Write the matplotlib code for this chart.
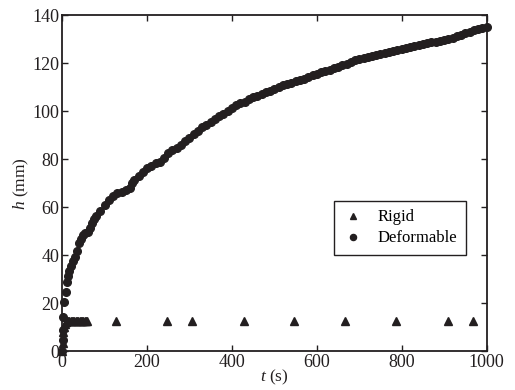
import matplotlib
matplotlib.use("Agg")
import matplotlib.pyplot as plt

# rigid cylinder: early dense readings, then sparse ones
t_rigid = [0, 1, 2, 4, 6, 8, 11, 14, 17, 20, 23, 26, 29, 32, 35, 38, 41, 44, 47, 50, 53, 56, 59,
           128, 248, 307, 428, 546, 667, 787, 908, 967]
h_rigid = [0, 3.5, 8.2, 10.2, 11.6, 12.3, 12.6, 12.7, 12.7, 12.7, 12.7, 12.7, 12.7, 12.7, 12.7, 12.7,
           12.7, 12.7, 12.7, 12.7, 12.7, 12.7, 12.7,
           12.8, 12.8, 12.8, 12.8, 12.8, 12.8, 12.8, 12.8, 12.8]

# deformable cylinder
t_deform = [0, 1, 2, 3, 5, 8, 11, 13, 16, 20, 25, 30, 35, 40, 45, 50, 55, 60, 65, 70, 75, 80, 90,
            100, 110, 120, 130, 140, 150, 160, 165, 170, 180, 190, 200, 210, 220, 230, 240, 250,
            260, 270, 280, 290, 300, 310, 320, 330, 340, 350, 360, 370, 380, 390, 400, 410, 420,
            430, 440, 450, 460, 470, 480, 490, 500, 510, 520, 530, 540, 550, 560, 570, 580, 590,
            600, 610, 620, 630, 640, 650, 660, 670, 680, 690, 700, 710, 720, 730, 740, 750, 760,
            770, 780, 790, 800, 810, 820, 830, 840, 850, 860, 870, 880, 890, 900, 910, 920, 930,
            940, 950, 960, 970, 980, 990, 1000]
h_deform = [0, 4.6, 8.9, 14.4, 20.7, 24.8, 29.0, 31.5, 33.5, 35.5, 37.5, 39.4, 42.0, 45.0, 47.0,
            48.5, 49.5, 49.8, 51.5, 53.5, 55.0, 56.5, 58.5, 61.0, 63.0, 64.8, 65.8, 66.5, 67.2,
            68.2, 70.0, 71.5, 73.2, 74.8, 76.3, 77.3, 78.3, 79.0, 80.5, 82.5, 83.8, 84.8, 85.8,
            87.5, 89.0, 90.5, 92.0, 93.5, 94.5, 95.5, 96.8, 98.0, 99.0, 100.3, 101.5, 102.5,
            103.3, 104.0, 105.0, 105.8, 106.5, 107.3, 108.0, 108.5, 109.3, 110.0, 110.8, 111.5,
            112.0, 112.5, 113.0, 113.5, 114.3, 115.0, 115.7, 116.2, 116.8, 117.3, 118.0, 118.6,
            119.2, 119.8, 120.5, 121.2, 121.8, 122.3, 122.8, 123.2, 123.6, 124.0, 124.3, 124.7,
            125.1, 125.5, 125.9, 126.4, 126.9, 127.3, 127.7, 128.1, 128.4, 128.7, 129.0, 129.3,
            129.6, 130.0, 130.5, 131.2, 132.0, 132.6, 133.2, 133.8, 134.3, 134.8, 135.2]

plt.rcParams['font.family'] = ['Liberation Serif', 'DejaVu Serif']
plt.rcParams['mathtext.fontset'] = 'custom'
plt.rcParams['mathtext.it'] = 'Liberation Serif:italic'
plt.rcParams['mathtext.rm'] = 'Liberation Serif'

ink = '#231f20'

fig = plt.figure(figsize=(5.15, 3.9), dpi=100)
ax = fig.add_axes([0.1206, 0.099, 0.8243, 0.8617])

ax.plot(t_rigid, h_rigid, '^', color=ink, markersize=5.8, label='Rigid', clip_on=False)
ax.plot(t_deform, h_deform, 'o', color=ink, markersize=5.5, label='Deformable', clip_on=False)

ax.set_xlim(0, 1000)
ax.set_ylim(0, 140)
ax.set_xticks(range(0, 1001, 200))
ax.set_yticks(range(0, 141, 20))
ax.tick_params(direction='in', top=True, right=True, length=4, width=1,
               labelsize=13, colors=ink, pad=2)
for s in ax.spines.values():
    s.set_linewidth(1.3)
    s.set_color(ink)

ax.set_xlabel('$t$ (s)', fontsize=12.5, labelpad=-2.5, color=ink)
ax.set_ylabel('$h$ (mm)', fontsize=12.5, labelpad=1, color=ink)

leg = ax.legend(loc='lower right', bbox_to_anchor=(0.97, 0.263), fontsize=12,
                fancybox=False, framealpha=1, edgecolor=ink, handlelength=1.2,
                handletextpad=0.9, borderpad=0.5, labelspacing=0.3, markerscale=0.8)
leg.get_frame().set_linewidth(1.0)

fig.savefig('out.png', dpi=100)
